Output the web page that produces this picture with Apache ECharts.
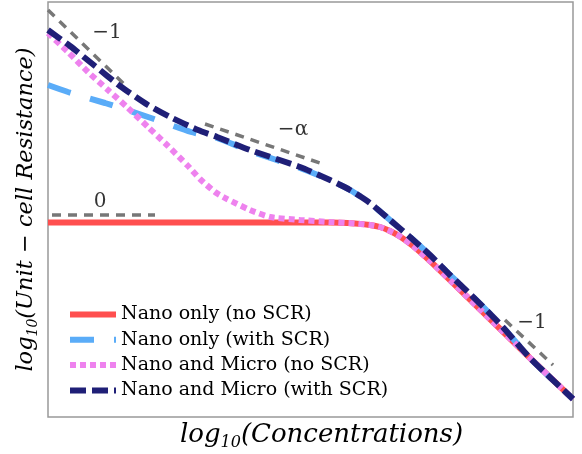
<!DOCTYPE html>
<html>
<head>
<meta charset="utf-8">
<script src="https://cdn.jsdelivr.net/npm/echarts@6/dist/echarts.min.js"></script>
<style>
  html, body { margin: 0; padding: 0; background: #fff; }
  #chart { width: 582px; height: 454px; }
</style>
</head>
<body>
<div id="chart"></div>
<script>
// curves, [log10 concentration, log10 resistance]
const nanoNoScr = [
  [0, 3.89], [3.04, 3.89], [5.64, 3.89], [6.14, 3.87], [6.44, 3.84], [6.64, 3.80],
  [6.84, 3.72], [7.04, 3.61], [7.30, 3.42], [7.64, 3.12], [8.10, 2.68],
  [8.88, 1.92], [9.64, 1.18], [10.5, 0.36]
];
const nanoScr = [
  [0, 6.64], [0.4, 6.5], [1.14, 6.28], [2.06, 5.98], [2.86, 5.7], [3.38, 5.58],
  [4.04, 5.32], [5.04, 4.98], [5.64, 4.74], [6.04, 4.54], [6.44, 4.28], [6.84, 3.94],
  [7.24, 3.6], [7.64, 3.24], [8.04, 2.84], [8.44, 2.46], [9.04, 1.86], [9.64, 1.18], [10.5, 0.36]
];
const microNoScr = [
  [0, 7.68], [0.4, 7.3], [0.8, 6.9], [1.2, 6.54], [1.6, 6.18], [2.0, 5.8], [2.4, 5.42],
  [2.8, 5.02], [3.04, 4.76], [3.34, 4.5], [3.58, 4.36], [4.04, 4.14], [4.44, 4.0],
  [5.04, 3.94], [5.64, 3.9], [6.14, 3.87], [6.44, 3.84], [6.64, 3.80], [6.84, 3.72],
  [7.04, 3.61], [7.30, 3.42], [7.64, 3.12], [8.10, 2.68], [8.88, 1.92], [9.64, 1.18], [10.5, 0.36]
];
const microScr = [
  [0, 7.74], [0.44, 7.42], [0.94, 7.02], [1.44, 6.62], [2.0, 6.24], [2.44, 6.0], [3.0, 5.74],
  [3.38, 5.6], [4.04, 5.34], [5.04, 5.0], [5.64, 4.74], [6.04, 4.54], [6.44, 4.28], [6.84, 3.94],
  [7.24, 3.6], [7.64, 3.24], [8.04, 2.84], [8.44, 2.46], [9.04, 1.86], [9.64, 1.18], [10.5, 0.36]
];

// slope guides
const guideUpper = [[0, 8.14], [1.54, 6.64]];
const guideAlpha = [[3.14, 5.86], [5.44, 5.08]];
const guideZero = [[0.08, 4.04], [2.14, 4.04]];
const guideLower = [[9.14, 1.94], [10.1, 1.04]];

const slopeLabels = ['\u22121', '\u2212\u03b1', '0', '\u22121'];
const slopeLabelPos = [[1.18, 7.68], [4.9, 5.74], [1.04, 4.3], [9.68, 1.88]];

const names = [
  'Nano only (no SCR)',
  'Nano only (with SCR)',
  'Nano and Micro (no SCR)',
  'Nano and Micro (with SCR)'
];

const serif = '"DejaVu Serif", serif';
const chart = echarts.init(document.getElementById('chart'));

function curve(name, data, color, type, z) {
  return {
    name: name, type: 'line', data: data, smooth: 0.2,
    symbol: 'none', z: z,
    lineStyle: { color: color, width: 6, type: type, cap: 'butt' },
    itemStyle: { color: color }
  };
}
function guide(data) {
  return {
    type: 'line', data: data, symbol: 'none', silent: true, z: 1,
    lineStyle: { color: '#777', width: 3.5, type: [9, 7] }
  };
}

function axisName(size, pad) {
  return {
    fontFamily: serif, fontStyle: 'italic', fontSize: size, color: '#000', padding: pad,
    rich: {
      a: { fontFamily: serif, fontStyle: 'italic', fontSize: size, color: '#000', lineHeight: size + 6 },
      s: { fontFamily: serif, fontSize: Math.round(size * 0.62), color: '#000', lineHeight: 13, verticalAlign: 'bottom' }
    }
  };
}

chart.setOption({
  animation: false,
  backgroundColor: '#fff',
  grid: {
    left: 48, right: 9, top: 2, bottom: 37, outerBoundsMode: 'none', containLabel: false,
    show: true, borderColor: '#999', borderWidth: 1.5
  },
  xAxis: {
    type: 'value', min: 0, max: 10.5,
    name: '{a|log}{s|10}{a|(Concentrations)}', nameLocation: 'middle', nameGap: 2,
    nameTextStyle: axisName(26, [0, 0, 0, 22]),
    axisLine: { show: false }, axisTick: { show: false }, axisLabel: { show: false }, splitLine: { show: false }
  },
  yAxis: {
    type: 'value', min: 0, max: 8.3,
    name: '{a|log}{s|10}{a|(Unit \u2212 cell Resistance)}', nameLocation: 'middle', nameGap: 8,
    nameTextStyle: axisName(22.5, 0),
    axisLine: { show: false }, axisTick: { show: false }, axisLabel: { show: false }, splitLine: { show: false }
  },
  legend: {
    data: names, orient: 'vertical', left: 67, top: 304, padding: 0,
    itemWidth: 46, itemHeight: 6, itemGap: 4.3,
    itemStyle: { opacity: 0, borderWidth: 0 },
    lineStyle: { width: 6 },
    textStyle: { fontFamily: serif, fontSize: 19, color: '#000', lineHeight: 21 }
  },
  series: [
    guide(guideUpper), guide(guideAlpha), guide(guideZero), guide(guideLower),
    curve(names[0], nanoNoScr, '#ff4f4f', 'solid', 2),
    curve(names[1], nanoScr, '#5aacf8', [24, 20], 3),
    curve(names[2], microNoScr, '#ee82ee', [6, 4], 4),
    curve(names[3], microScr, '#1f1f77', [16, 6], 5),
    {
      type: 'scatter', symbolSize: 0, silent: true, z: 6,
      data: slopeLabelPos.map((p, i) => ({ value: p, name: slopeLabels[i] })),
      label: { show: true, position: 'inside', formatter: '{b}', fontFamily: serif, fontSize: 20, color: '#000' }
    }
  ]
});
</script>
</body>
</html>
